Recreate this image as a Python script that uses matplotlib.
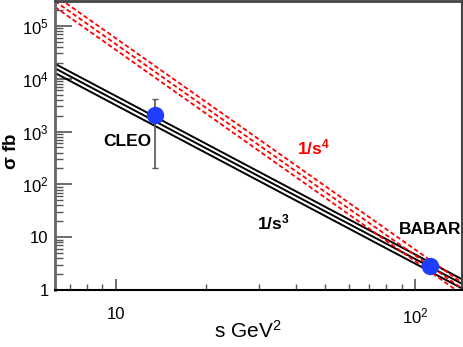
import numpy as np
import matplotlib
matplotlib.use('Agg')
import matplotlib.pyplot as plt
from matplotlib.ticker import FixedLocator, FixedFormatter, LogLocator, NullFormatter

plt.rcParams['font.family'] = ['Liberation Sans', 'DejaVu Sans']
plt.rcParams['mathtext.fontset'] = 'custom'
plt.rcParams['mathtext.rm'] = 'Liberation Sans'
plt.rcParams['mathtext.it'] = 'Liberation Sans:italic'
plt.rcParams['mathtext.bf'] = 'Liberation Sans:bold'

# data
s_range = [6.26, 143.0]
norm_s3 = [4.7e6, 3.86e6, 3.15e6]    # sigma = A / s^3
norm_s4 = [5.8e8, 4.5e8, 3.5e8]      # sigma = A / s^4
exp_names = ['CLEO', 'BABAR']
exp_s = [13.5, 112.0]
exp_sigma = [2050.0, 2.85]
exp_err_lo = [1850.0, 0.0]
exp_err_hi = [2000.0, 0.0]

fig = plt.figure(figsize=(4.64, 3.47), dpi=100)
ax = fig.add_axes([0.1185, 0.164, 0.877, 0.833])

s = np.logspace(np.log10(s_range[0]), np.log10(s_range[1]), 200)
for a in norm_s3:
  ax.plot(s, a / s**3, color='black', lw=1.4, solid_capstyle='butt')
for a in norm_s4:
  ax.plot(s, a / s**4, color='red', lw=1.3, ls=(0, (2.5, 1.5)))

ax.errorbar(exp_s[:1], exp_sigma[:1], yerr=[exp_err_lo[:1], exp_err_hi[:1]],
            fmt='none', ecolor='#555555', elinewidth=1.2, capsize=2.5, zorder=4)
ax.plot(exp_s, exp_sigma, 'o', color='#1f3dff', ms=11.5, zorder=5)

ax.set_xscale('log')
ax.set_yscale('log')
ax.set_xlim(s_range)
ax.set_ylim(1, 2.95e5)

ax.text(10.9, 660, exp_names[0], fontsize=12.5, fontweight='bold', ha='center', va='center')
ax.text(112, 14.3, exp_names[1], fontsize=12.5, fontweight='bold', ha='center', va='center')
ax.text(33.6, 19.4, r'$\mathbf{1/s^3}$', fontsize=12.5, ha='center', va='center')
ax.text(45.8, 510, r'$\mathbf{1/s^4}$', fontsize=12.5, color='red', ha='center', va='center')

fig.text(248 / 464, 1 - 331 / 347, r's GeV$^2$', fontsize=15, ha='center', va='center')
fig.text(12 / 464, 1 - 152 / 347, r'$\mathbf{\sigma}$ fb', fontsize=13.5, fontweight='bold',
         rotation=90, ha='center', va='center')

ax.xaxis.set_major_locator(FixedLocator([10, 100]))
ax.xaxis.set_major_formatter(FixedFormatter(['10', r'10$^2$']))
ax.xaxis.set_minor_locator(LogLocator(base=10, subs=np.arange(2, 10)))
ax.xaxis.set_minor_formatter(NullFormatter())

yt = [1, 10, 100, 1e3, 1e4, 1e5]
ax.yaxis.set_major_locator(FixedLocator(yt))
ax.yaxis.set_major_formatter(FixedFormatter(['1', '10', r'10$^2$', r'10$^3$', r'10$^4$', r'10$^5$']))
ax.yaxis.set_minor_locator(LogLocator(base=10, subs=np.arange(2, 10)))
ax.yaxis.set_minor_formatter(NullFormatter())

ax.tick_params(axis='both', which='both', direction='in', color='#555555', labelsize=12)
ax.tick_params(axis='x', which='major', length=8, width=1.2, pad=12)
ax.tick_params(axis='x', which='minor', length=4.5, width=1)
ax.tick_params(axis='y', which='major', length=12, width=1.2, pad=4.5)
ax.tick_params(axis='y', which='minor', length=6, width=1)

ax.spines['left'].set_color('#666666')
ax.spines['left'].set_linewidth(2)
ax.spines['bottom'].set_color('black')
ax.spines['bottom'].set_linewidth(1.5)
ax.spines['top'].set_color('#444444')
ax.spines['top'].set_linewidth(2)
ax.spines['right'].set_color('#444444')
ax.spines['right'].set_linewidth(1.5)

plt.savefig('out.png', dpi=100)
